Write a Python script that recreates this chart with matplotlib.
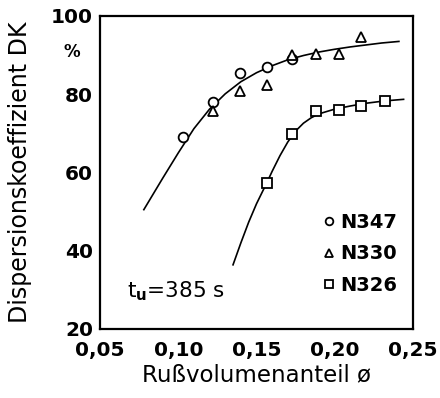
import matplotlib
matplotlib.use("Agg")
import matplotlib.pyplot as plt
from matplotlib.lines import Line2D

# Messpunkte (Rußvolumenanteil, Dispersionskoeffizient DK in %)
n347_x = [0.103, 0.122, 0.1395, 0.1565, 0.1725]
n347_y = [69.0, 77.9, 85.5, 86.9, 89.0]

n330_x = [0.1224, 0.1395, 0.157, 0.173, 0.188, 0.203, 0.217]
n330_y = [75.6, 80.9, 82.4, 90.1, 90.3, 90.3, 94.6]

n326_x = [0.1565, 0.173, 0.188, 0.203, 0.217, 0.232]
n326_y = [57.3, 69.9, 75.6, 76.0, 77.1, 78.4]

# Ausgleichskurven
kurve1_x = [0.078, 0.09, 0.10, 0.11, 0.12, 0.13, 0.14, 0.15, 0.16, 0.17,
            0.18, 0.19, 0.20, 0.21, 0.22, 0.23, 0.241]
kurve1_y = [50.5, 58.5, 65.0, 71.2, 76.2, 80.1, 83.2, 85.5, 87.3, 88.8,
            89.9, 90.8, 91.5, 92.1, 92.6, 93.1, 93.5]

kurve2_x = [0.135, 0.14, 0.145, 0.15, 0.1565, 0.16, 0.165, 0.17, 0.175,
            0.18, 0.185, 0.19, 0.20, 0.21, 0.22, 0.232, 0.244]
kurve2_y = [36.4, 42.0, 47.3, 52.0, 57.3, 60.3, 64.3, 67.8, 70.6,
            72.6, 74.0, 75.0, 76.2, 77.0, 77.7, 78.3, 78.7]

xticks = [0.05, 0.10, 0.15, 0.20, 0.25]
xlabels = ["0,05", "0,10", "0,15", "0,20", "0,25"]
yticks = [20, 40, 60, 80, 100]

fig = plt.figure(figsize=(4.4, 3.98), dpi=100)
ax = fig.add_axes([0.2273, 0.1734, 0.7113, 0.7864])

ax.plot(kurve1_x, kurve1_y, color="black", lw=1.2, zorder=1)
ax.plot(kurve2_x, kurve2_y, color="black", lw=1.2, zorder=1)

mk = dict(linestyle="none", markerfacecolor="white", markeredgecolor="black",
          markeredgewidth=1.3, zorder=3)
ax.plot(n347_x, n347_y, marker="o", markersize=7, **mk)
ax.plot(n330_x, n330_y, marker="^", markersize=7, **mk)
ax.plot(n326_x, n326_y, marker="s", markersize=6.5, **mk)

ax.set_xlim(0.05, 0.25)
ax.set_ylim(20, 100)
ax.set_xticks(xticks)
ax.set_xticklabels(xlabels)
ax.set_yticks(yticks)
ax.tick_params(axis="y", length=0, pad=5)
ax.tick_params(axis="x", length=0, pad=9)
for lab in ax.get_xticklabels() + ax.get_yticklabels():
    lab.set_fontsize(14.5)
    lab.set_fontweight("bold")
for s in ax.spines.values():
    s.set_linewidth(1.6)

ax.text(-0.09, 0.885, "%", transform=ax.transAxes, ha="center", va="center",
        fontsize=12, fontweight="bold")

ax.set_xlabel("Rußvolumenanteil ø", fontsize=16.5, labelpad=2)
ax.set_ylabel("Dispersionskoeffizient DK", fontsize=17, labelpad=14)

ax.text(0.085, 0.12, r"t$_\mathbf{u}$=385 s", transform=ax.transAxes,
        fontsize=15.5, va="center", ha="left")

handles = [Line2D([], [], marker=m, markersize=ms, **mk)
           for m, ms in (("o", 5.5), ("^", 5.5), ("s", 5.5))]
leg = ax.legend(handles, ["N347", "N330", "N326"], loc="lower right",
                bbox_to_anchor=(0.988, 0.071), frameon=False, handlelength=0.6,
                handletextpad=0.3, labelspacing=0.65, borderaxespad=0.2,
                prop={"size": 14, "weight": "bold"})

fig.savefig("out.png", dpi=100)
